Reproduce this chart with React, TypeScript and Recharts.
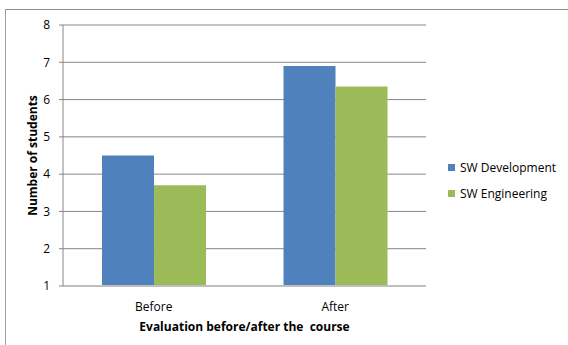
import React from 'react';
import { BarChart, Bar, XAxis, YAxis, CartesianGrid, Legend, Label } from 'recharts';

const categories = ['Before', 'After'];
const swDevelopment = [4.5, 6.9];
const swEngineering = [3.7, 6.35];
const yTicks = [1, 2, 3, 4, 5, 6, 7, 8];
const seriesNames = ['SW Development', 'SW Engineering'];
const seriesColors = ['#4F81BD', '#9BBB59'];

const data = categories.map((c, i) => ({
  name: c,
  dev: swDevelopment[i],
  eng: swEngineering[i],
}));

const FONT = '"Open Sans", "Liberation Sans", sans-serif';

const renderLegend = () => (
  <div style={{ fontFamily: FONT, fontSize: 12, color: '#000' }}>
    {seriesNames.map((n, i) => (
      <div key={n} style={{ display: 'flex', alignItems: 'center', height: 26 }}>
        <div style={{ width: 7, height: 7, background: seriesColors[i], marginRight: 5 }} />
        <span>{n}</span>
      </div>
    ))}
  </div>
);

export default function App() {
  return (
    <div style={{ position: 'absolute', left: 0, top: 0, width: 568, height: 345, background: '#fff' }}>
      <div
        style={{
          position: 'absolute',
          left: 5,
          top: 9,
          width: 563,
          height: 336,
          borderTop: '1px solid #8c8c8c',
          borderLeft: '1px solid #a0a0a0',
          boxSizing: 'border-box',
        }}
      />
      <BarChart
        width={568}
        height={345}
        data={data}
        margin={{ top: 25, right: 142, bottom: 0, left: 0 }}
        barCategoryGap="21.5%"
        barGap={0}
        style={{ position: 'absolute', left: 0, top: 0 }}
      >
        <CartesianGrid vertical={false} stroke="#868686" strokeWidth={1} />
        <XAxis
          dataKey="name"
          tickLine={false}
          axisLine={{ stroke: '#bfbfbf', strokeWidth: 2 }}
          tick={{ fontFamily: FONT, fontSize: 12, fill: '#000' }}
          tickMargin={10}
          height={59}
        >
          <Label
            value={'Evaluation before/after the \u00a0course'}
            position="insideBottom"
            offset={14}
            style={{ fontFamily: FONT, fontSize: 12, fontWeight: 'bold', fill: '#000' }}
          />
        </XAxis>
        <YAxis
          domain={[1, 8]}
          ticks={yTicks}
          interval={0}
          width={63}
          tickSize={4}
          tickMargin={9}
          tickLine={{ stroke: '#868686' }}
          axisLine={{ stroke: '#868686' }}
          tick={{ fontFamily: FONT, fontSize: 12, fill: '#000' }}
        >
          <Label
            value="Number of students"
            angle={-90}
            position="insideLeft"
            offset={33}
            style={{ fontFamily: FONT, fontSize: 12, fontWeight: 'bold', fill: '#000', textAnchor: 'middle' }}
          />
        </YAxis>
        <Legend
          content={renderLegend}
          layout="vertical"
          verticalAlign="middle"
          align="center"
          wrapperStyle={{ position: 'absolute', left: 448, top: 154, width: 120 }}
        />
        <Bar dataKey="dev" name={seriesNames[0]} fill={seriesColors[0]} isAnimationActive={false} />
        <Bar dataKey="eng" name={seriesNames[1]} fill={seriesColors[1]} isAnimationActive={false} />
      </BarChart>
    </div>
  );
}
